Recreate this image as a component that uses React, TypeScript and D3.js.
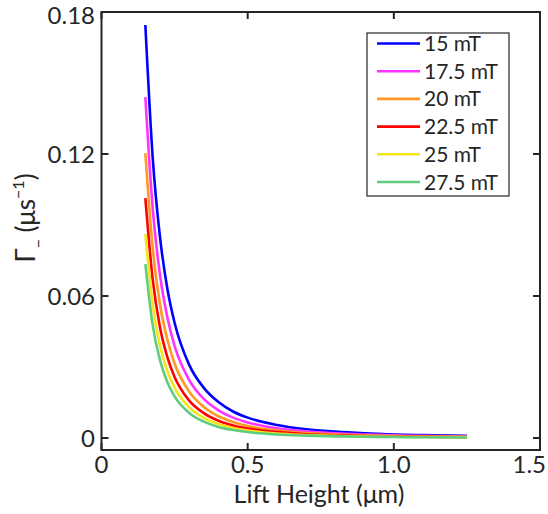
import React from 'react';
import * as d3 from 'd3';

// lift height (µm) sample points shared by all curves
const liftHeight = [0.15, 0.175, 0.2, 0.225, 0.25, 0.3, 0.35, 0.4, 0.45, 0.5, 0.6, 0.7, 0.8, 0.9, 1.0, 1.1, 1.25];

const gamma15 = [0.1745, 0.1187, 0.085, 0.0633, 0.0487, 0.0309, 0.0212, 0.0152, 0.0112, 0.0086, 0.0055, 0.0037, 0.0027, 0.002, 0.0015, 0.0012, 0.0009];
const gamma175 = [0.144, 0.0971, 0.069, 0.0511, 0.0389, 0.0245, 0.0165, 0.0117, 0.0086, 0.0066, 0.0041, 0.0028, 0.002, 0.0015, 0.0011, 0.0009, 0.0006];
const gamma20 = [0.1204, 0.0804, 0.0566, 0.0417, 0.0315, 0.0196, 0.0131, 0.0092, 0.0068, 0.0051, 0.0032, 0.0021, 0.0015, 0.0011, 0.0008, 0.0007, 0.0005];
const gamma225 = [0.1014, 0.0671, 0.0468, 0.0343, 0.0258, 0.0158, 0.0105, 0.0073, 0.0053, 0.004, 0.0025, 0.0016, 0.0011, 0.0008, 0.0006, 0.0005, 0.0003];
const gamma25 = [0.0862, 0.0565, 0.0391, 0.0284, 0.0213, 0.0129, 0.0085, 0.0059, 0.0042, 0.0032, 0.0019, 0.0013, 0.0009, 0.0006, 0.0005, 0.0004, 0.0003];
const gamma275 = [0.0735, 0.0478, 0.0329, 0.0237, 0.0176, 0.0106, 0.0069, 0.0047, 0.0034, 0.0025, 0.0015, 0.001, 0.0007, 0.0005, 0.0004, 0.0003, 0.0002];

const seriesNames = ['15 mT', '17.5 mT', '20 mT', '22.5 mT', '25 mT', '27.5 mT'];
const seriesValues = [gamma15, gamma175, gamma20, gamma225, gamma25, gamma275];
const seriesColors = ['#0000ff', '#ff33ff', '#ff9922', '#ff0000', '#f5e61c', '#5fcc7f'];

const xTicks = [0, 0.5, 1.0, 1.5];
const xTickLabels = ['0', '0.5', '1.0', '1.5'];
const yTicks = [0, 0.06, 0.12, 0.18];
const yTickLabels = ['0', '0.06', '0.12', '0.18'];

const W = 548;
const H = 514;
const left = 101.5, right = 540, top = 12, bottom = 450;
const ink = '#262626';
const font = 'Lato, "Open Sans", sans-serif';
const tickLen = 7;

const App = () => {
  const x = d3.scaleLinear().domain([0, 1.5]).range([left, right]);
  const y = d3.scaleLinear().domain([-0.00507, 0.18]).range([bottom, top]);

  const line = d3.line<number>()
    .x((_, i) => x(liftHeight[i]))
    .y((d) => y(d))
    .curve(d3.curveMonotoneX);

  const legendX = 367, legendY = 33, legendW = 142, legendH = 163;
  const rowH = 27.7;

  return (
    <svg width={W} height={H} style={{ position: 'absolute', left: 0, top: 0 }} fontFamily={font}>
      <rect width={W} height={H} fill="#fff" />

      {seriesValues.map((vals, k) => (
        <path key={k} d={line(vals) || ''} fill="none" stroke={seriesColors[k]} strokeWidth={2.6} />
      ))}

      {/* box */}
      <rect x={left} y={top} width={right - left} height={bottom - top} fill="none" stroke={ink} strokeWidth={2} />

      {xTicks.map((t, i) => {
        // keep the last label inside the page, as the original does
        const last = i === xTicks.length - 1;
        return (
          <g key={'x' + i}>
            <line x1={x(t)} x2={x(t)} y1={bottom} y2={bottom - tickLen} stroke={ink} strokeWidth={2} />
            <line x1={x(t)} x2={x(t)} y1={top} y2={top + tickLen} stroke={ink} strokeWidth={2} />
            <text x={last ? W - 2 : x(t)} y={473} textAnchor={last ? 'end' : 'middle'} fontSize={24} fill={ink}>{xTickLabels[i]}</text>
          </g>
        );
      })}

      {yTicks.map((t, i) => (
        <g key={'y' + i}>
          <line x1={left} x2={left + tickLen} y1={y(t)} y2={y(t)} stroke={ink} strokeWidth={2} />
          <line x1={right} x2={right - tickLen} y1={y(t)} y2={y(t)} stroke={ink} strokeWidth={2} />
          <text x={95} y={Math.max(y(t) + 8.5, 24)} textAnchor="end" fontSize={24} fill={ink}>{yTickLabels[i]}</text>
        </g>
      ))}

      <text x={319} y={503} textAnchor="middle" fontSize={25} fill={ink}>Lift Height (μm)</text>

      <text transform="translate(35,218) rotate(-90)" textAnchor="middle" fontSize={26} fill={ink}>
        Γ<tspan fontSize={16} dy={9}>−</tspan>
        <tspan dy={-9}> (μs</tspan>
        <tspan fontSize={16} dy={-11}>−1</tspan>
        <tspan dy={11}>)</tspan>
      </text>

      {/* legend */}
      <rect x={legendX} y={legendY} width={legendW} height={legendH} fill="#fff" stroke={ink} strokeWidth={1.2} />
      {seriesNames.map((name, k) => {
        const cy = legendY + 10.5 + k * rowH;
        return (
          <g key={'l' + k}>
            <line x1={377} x2={420} y1={cy} y2={cy} stroke={seriesColors[k]} strokeWidth={2.6} />
            <text x={424} y={cy + 7.5} fontSize={21} fill={ink}>{name}</text>
          </g>
        );
      })}
    </svg>
  );
};

export default App;
